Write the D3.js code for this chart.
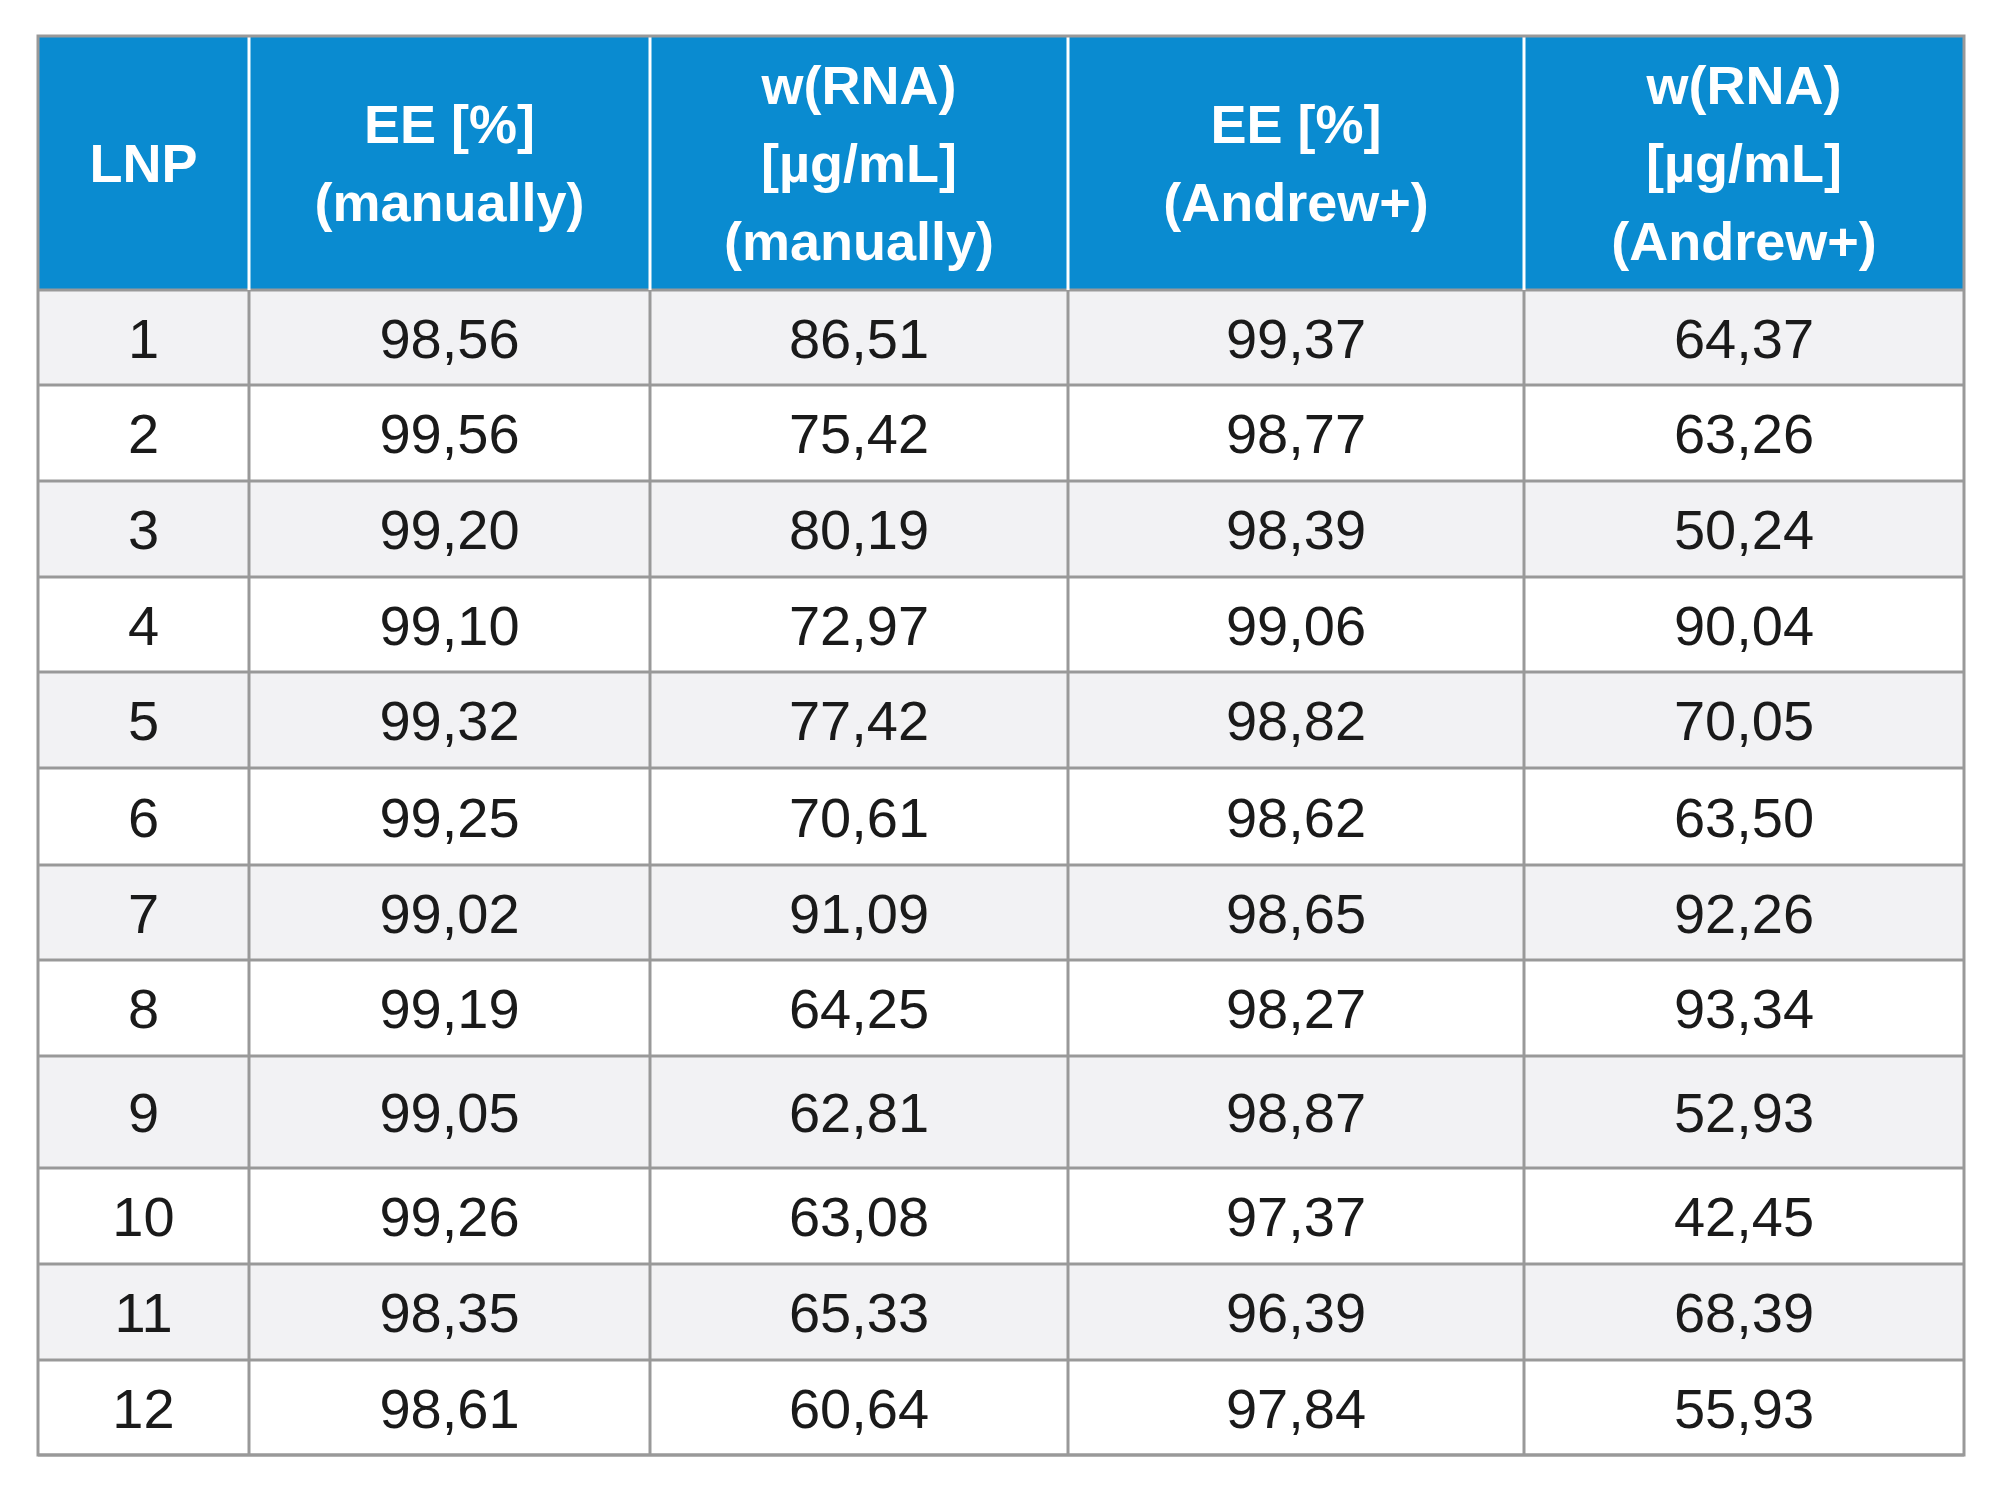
<!DOCTYPE html><html><head><meta charset="utf-8"><script src="https://cdn.jsdelivr.net/npm/d3@7"></script>
<style>body{margin:0;background:#fff}</style></head><body><svg id="c" width="2000" height="1502"></svg><script>
const headers=[["LNP"],["EE [%]","(manually)"],["w(RNA)","[µg/mL]","(manually)"],["EE [%]","(Andrew+)"],["w(RNA)","[µg/mL]","(Andrew+)"]];
const lnp=["1","2","3","4","5","6","7","8","9","10","11","12"];
const eeManual=["98,56","99,56","99,20","99,10","99,32","99,25","99,02","99,19","99,05","99,26","98,35","98,61"];
const rnaManual=["86,51","75,42","80,19","72,97","77,42","70,61","91,09","64,25","62,81","63,08","65,33","60,64"];
const eeAndrew=["99,37","98,77","98,39","99,06","98,82","98,62","98,65","98,27","98,87","97,37","96,39","97,84"];
const rnaAndrew=["64,37","63,26","50,24","90,04","70,05","63,50","92,26","93,34","52,93","42,45","68,39","55,93"];
const colEdges=[38,249,650,1068,1524,1964];
const rowEdges=[36,290,385,481,577,672,768,865,960,1056,1168,1264,1360,1455];
const svg=d3.select("#c");
const cols=[lnp,eeManual,rnaManual,eeAndrew,rnaAndrew];
const font="'Liberation Sans', Arial, sans-serif";
// header
svg.append("rect").attr("x",38).attr("y",36).attr("width",1926).attr("height",254).attr("fill","#0a8bd0");
headers.forEach((h,i)=>{
  const cx=(colEdges[i]+colEdges[i+1])/2, cy=(rowEdges[0]+rowEdges[1])/2;
  const lh=78;
  const t=svg.append("text").attr("x",cx).attr("text-anchor","middle").attr("fill","#fff")
    .attr("font-family",font).attr("font-size",54).attr("font-weight","bold");
  h.forEach((line,j)=>t.append("tspan").attr("x",cx).attr("y",cy+(j-(h.length-1)/2)*lh+19).text(line));
});
for(let r=0;r<12;r++){
  const y0=rowEdges[r+1],y1=rowEdges[r+2];
  svg.append("rect").attr("x",38).attr("y",y0).attr("width",1926).attr("height",y1-y0).attr("fill",r%2===0?"#f2f2f4":"#fff");
  cols.forEach((c,i)=>{
    svg.append("text").attr("x",(colEdges[i]+colEdges[i+1])/2).attr("y",(y0+y1)/2+20)
      .attr("text-anchor","middle").attr("font-family",font).attr("font-size",56).attr("fill","#1a1a1a").text(c[r]);
  });
}
// grid lines
for(let r=1;r<rowEdges.length;r++) svg.append("line").attr("x1",38).attr("x2",1964).attr("y1",rowEdges[r]).attr("y2",rowEdges[r]).attr("stroke","#999").attr("stroke-width",3);
colEdges.slice(1,-1).forEach(x=>{
  svg.append("line").attr("x1",x).attr("x2",x).attr("y1",36).attr("y2",290).attr("stroke","#fff").attr("stroke-width",3);
  svg.append("line").attr("x1",x).attr("x2",x).attr("y1",290).attr("y2",1455).attr("stroke","#999").attr("stroke-width",3);
});
svg.append("rect").attr("x",38).attr("y",36).attr("width",1926).attr("height",1419).attr("fill","none").attr("stroke","#999").attr("stroke-width",3);
</script></body></html>
